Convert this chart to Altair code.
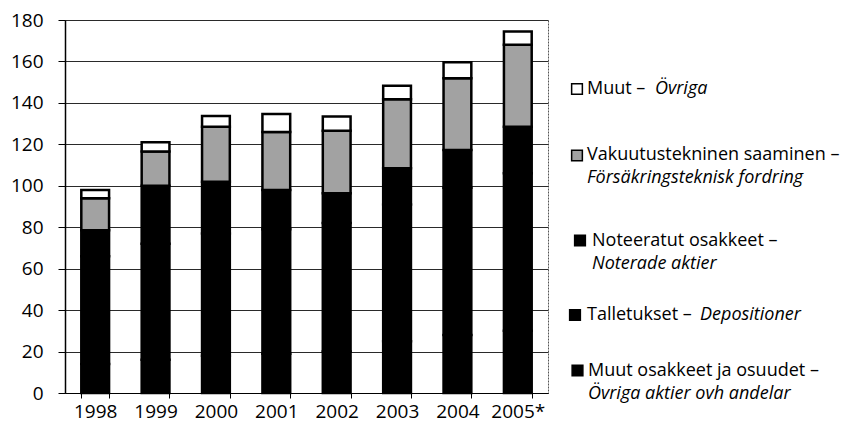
import altair as alt
import pandas as pd

years = ["1998", "1999", "2000", "2001", "2002", "2003", "2004", "2005*"]
series = [
    "Muut osakkeet ja osuudet",
    "Talletukset",
    "Noteeratut osakkeet",
    "Vakuutustekninen saaminen",
    "Muut",
]
muut_osakkeet = [14, 16, 18, 19, 20, 25, 28, 30]
talletukset = [52, 56, 59, 60, 62, 66, 71, 76]
noteeratut = [12.5, 28, 25, 19, 14.4, 17.4, 18.3, 22.5]
vakuutus = [15.5, 16.5, 26.5, 28, 30.2, 33.3, 34.6, 39.5]
muut = [4, 4.5, 5.2, 8.6, 6.8, 6.6, 7.7, 6.4]
colors = ["#000000", "#000000", "#000000", "#a2a2a2", "#ffffff"]
y_ticks = [0, 20, 40, 60, 80, 100, 120, 140, 160, 180]

rows = []
for i, s in enumerate(series):
    vals = [muut_osakkeet, talletukset, noteeratut, vakuutus, muut][i]
    for y, v in zip(years, vals):
        rows.append({"year": y, "series": s, "value": v, "order": i})
df = pd.DataFrame(rows)

FONT = "Open Sans"
AXFS = 19
FS = 18

bars = alt.Chart(df).mark_bar(stroke="black", strokeWidth=2.5).encode(
    x=alt.X(
        "year:N",
        sort=years,
        scale=alt.Scale(paddingInner=0.54, paddingOuter=0.27),
        axis=alt.Axis(
            title=None, labelAngle=0, tickBand="extent", grid=False,
            domainColor="black", domainWidth=1.2, tickColor="black", tickSize=5,
            labelPadding=4, labelFont=FONT, labelFontSize=AXFS, labelColor="black",
        ),
    ),
    y=alt.Y(
        "value:Q",
        stack="zero",
        scale=alt.Scale(domain=[0, 180], nice=False),
        axis=alt.Axis(
            title=None, values=y_ticks, grid=True, gridColor="#2a2a2a", gridWidth=1,
            domainColor="black", domainWidth=1.5, tickColor="black", tickSize=7,
            labelPadding=15, labelFont=FONT, labelFontSize=AXFS, labelColor="black",
        ),
    ),
    color=alt.Color("series:N", scale=alt.Scale(domain=series, range=colors), legend=None),
    order=alt.Order("order:Q"),
)

one = alt.Data(values=[{"a": 1}])


def txt(text, x, y, italic=False):
    return alt.Chart(one).mark_text(
        text=text, align="left", baseline="middle", font=FONT, fontSize=FS,
        fontStyle="italic" if italic else "normal", color="black",
    ).encode(x=alt.value(x), y=alt.value(y))


def sq(x, y, fill):
    return alt.Chart(one).mark_square(
        size=115, fill=fill, stroke="black", strokeWidth=1.5, opacity=1,
    ).encode(x=alt.value(x), y=alt.value(y))


legend = [
    sq(512, 69, colors[4]),
    txt("Muut –", 522, 69),
    txt("Övriga", 590, 69, True),
    sq(512, 135.5, colors[3]),
    txt("Vakuutustekninen saaminen –", 522, 135),
    txt("Försäkringsteknisk fordring", 522, 158, True),
    sq(515, 220.5, colors[2]),
    txt("Noteeratut osakkeet –", 527, 220.5),
    txt("Noterade aktier", 527, 243.5, True),
    sq(510, 295, colors[1]),
    txt("Talletukset –", 522, 295),
    txt("Depositioner", 635, 295, True),
    sq(512.5, 350.5, colors[0]),
    txt("Muut osakkeet ja osuudet –", 523, 350.5),
    txt("Övriga aktier ovh andelar", 523, 373.5, True),
]

chart = alt.layer(bars, *legend).properties(
    width=483,
    height=373,
    padding={"left": 57, "top": 12, "right": 294, "bottom": 31},
    autosize=alt.AutoSizeParams(type="none"),
).configure_view(
    stroke="#555555", strokeDash=[2, 1], strokeWidth=1
)

chart.save("out.html", embed_options={"renderer": "svg", "actions": False})
